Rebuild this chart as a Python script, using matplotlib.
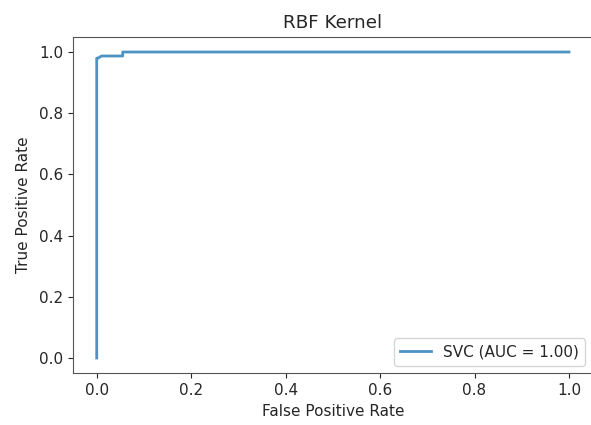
import matplotlib
matplotlib.use("Agg")
import matplotlib.pyplot as plt

# ROC curve points
fpr = [0.0, 0.0, 0.003, 0.01, 0.055, 0.055, 1.0]
tpr = [0.0, 0.98, 0.98, 0.987, 0.987, 1.0, 1.0]
auc_label = "SVC (AUC = 1.00)"

plt.rcParams["font.size"] = 11
plt.rcParams["text.color"] = "#262626"
plt.rcParams["axes.labelcolor"] = "#262626"
plt.rcParams["xtick.color"] = "#262626"
plt.rcParams["ytick.color"] = "#262626"

fig = plt.figure(figsize=(5.91, 4.25), dpi=100)
# right edge of the axes runs just past the picture, as in the reference
ax = fig.add_axes([0.1237, 0.1216, 0.879, 0.792])
ax.plot(fpr, tpr, color="#1f77b4", alpha=0.8, lw=2, label=auc_label)
ax.set_xlabel("False Positive Rate", fontsize=11)
ax.set_ylabel("True Positive Rate", fontsize=11, labelpad=6)
ax.set_title("RBF Kernel", fontsize=13.2, pad=6.6)
for s in ax.spines.values():
    s.set_color("#555555")
ax.spines["right"].set_visible(False)
ax.legend(loc="lower right", fontsize=11)
fig.savefig("out.png", dpi=100)
